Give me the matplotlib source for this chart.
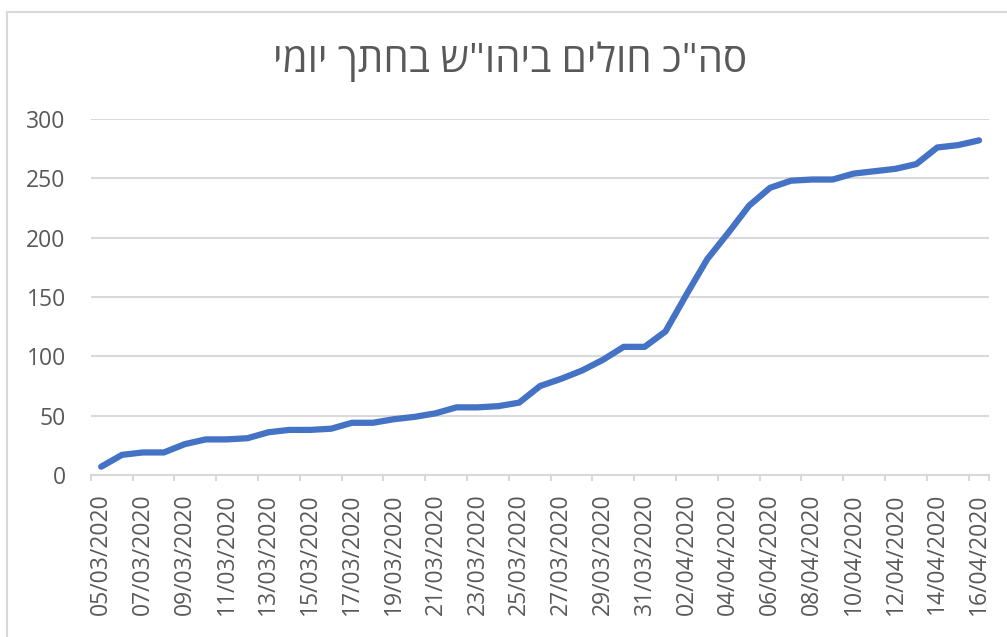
"""Daily total patients chart (Excel-style line chart)."""
import matplotlib
matplotlib.use('Agg')
import matplotlib.pyplot as plt
from matplotlib.lines import Line2D
from matplotlib.ticker import FixedLocator

# data
title = 'סה"כ חולים ביהו"ש בחתך יומי'

dates = [
    '05/03/2020', '06/03/2020', '07/03/2020', '08/03/2020', '09/03/2020',
    '10/03/2020', '11/03/2020', '12/03/2020', '13/03/2020', '14/03/2020',
    '15/03/2020', '16/03/2020', '17/03/2020', '18/03/2020', '19/03/2020',
    '20/03/2020', '21/03/2020', '22/03/2020', '23/03/2020', '24/03/2020',
    '25/03/2020', '26/03/2020', '27/03/2020', '28/03/2020', '29/03/2020',
    '30/03/2020', '31/03/2020', '01/04/2020', '02/04/2020', '03/04/2020',
    '04/04/2020', '05/04/2020', '06/04/2020', '07/04/2020', '08/04/2020',
    '09/04/2020', '10/04/2020', '11/04/2020', '12/04/2020', '13/04/2020',
    '14/04/2020', '15/04/2020', '16/04/2020',
]

patients = [
    7, 17, 19, 19, 26, 30, 30, 31, 36, 38,
    38, 39, 44, 44, 47, 49, 52, 57, 57, 58,
    61, 75, 81, 88, 97, 108, 108, 121, 152, 182,
    204, 227, 242, 248, 249, 249, 254, 256, 258, 262,
    276, 278, 282,
]

y_ticks = [0, 50, 100, 150, 200, 250, 300]

TEXT_GRAY = '#595959'
GRID_GRAY = '#D9D9D9'
LINE_BLUE = '#4472C4'
FONTS = ['Open Sans', 'DejaVu Sans']

plt.rcParams['font.family'] = FONTS

fig = plt.figure(figsize=(10.07, 6.37), dpi=100)
ax = fig.add_axes([90.7 / 1007, 1 - 475 / 637, (989.5 - 90.7) / 1007, (475 - 119) / 637])

x = list(range(len(dates)))
ax.plot(x, patients, color=LINE_BLUE, linewidth=4.5,
        solid_joinstyle='round', solid_capstyle='round', zorder=3)

ax.set_xlim(-0.5, len(dates) - 0.5)
ax.set_ylim(y_ticks[0], y_ticks[-1])

# labels on every second category, tick marks on category boundaries
ax.set_xticks(x[::2])
ax.set_xticklabels(dates[::2], rotation=90, fontsize=16.5, color=TEXT_GRAY)
ax.xaxis.set_minor_locator(FixedLocator([i - 0.5 for i in x[::2]] + [len(dates) - 0.5]))
ax.tick_params(axis='x', which='major', length=0, pad=13)
ax.tick_params(axis='x', which='minor', length=4, width=1.5, color=GRID_GRAY)

ax.set_yticks(y_ticks)
ax.set_yticklabels([str(v) for v in y_ticks], fontsize=16.5, color=TEXT_GRAY)
ax.tick_params(axis='y', length=0, pad=18)

ax.grid(axis='y', color=GRID_GRAY, linewidth=1.5)
ax.set_axisbelow(True)
for side in ['top', 'right', 'left']:
    ax.spines[side].set_visible(False)
ax.spines['bottom'].set_color(GRID_GRAY)
ax.spines['bottom'].set_linewidth(1.5)
ax.spines['bottom'].set_zorder(2)

# matplotlib has no bidi support, so feed the Hebrew in visual order
fig.text(0.507, 1 - 62 / 637, title[::-1], ha='center', va='center',
         fontsize=29, color=TEXT_GRAY, family=FONTS)

# chart area border (only left/top visible in the crop)
fig.add_artist(Line2D([6.5 / 1007, 6.5 / 1007], [0, 1 - 12 / 637], color=GRID_GRAY, linewidth=1.5))
fig.add_artist(Line2D([6.5 / 1007, 1], [1 - 12 / 637, 1 - 12 / 637], color=GRID_GRAY, linewidth=1.5))

fig.savefig('out.png', dpi=100)
plt.close(fig)
